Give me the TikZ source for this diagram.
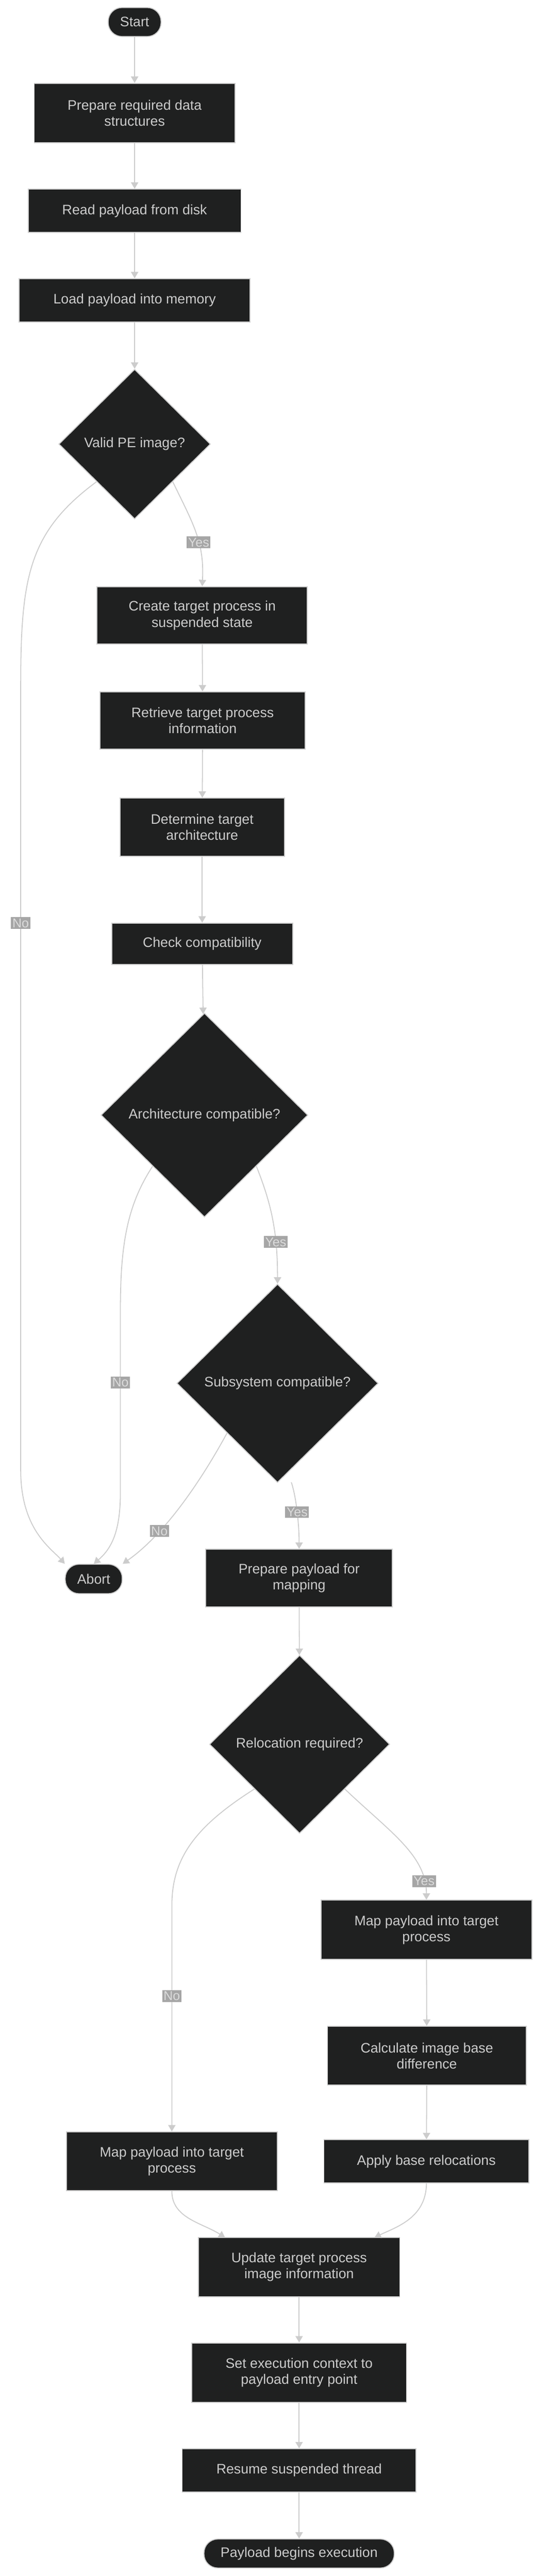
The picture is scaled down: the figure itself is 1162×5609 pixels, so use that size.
\documentclass[tikz,border=0pt]{standalone}
\usepackage{fontspec}
\setmainfont{Liberation Sans}
\usetikzlibrary{shapes.geometric,arrows.meta}
\definecolor{nodefill}{HTML}{1F2020}
\definecolor{linegray}{HTML}{CCCCCC}
\definecolor{lblfill}{HTML}{A6A6A6}
\begin{document}
\begin{tikzpicture}[x=1pt,y=-1pt,
    every node/.style={font=\fontsize{30}{35}\selectfont, text=linegray, align=center},
    box/.style={draw=linegray, line width=2pt, fill=nodefill, inner sep=0pt},
    term/.style={box, rounded corners=30pt},
    decision/.style={draw=linegray, line width=2pt, fill=nodefill, diamond, inner sep=0pt},
    lbl/.style={fill=lblfill, text=linegray!70, inner sep=3pt, font=\fontsize{28}{30}\selectfont},
    edge/.style={draw=linegray, line width=2pt, -{Triangle[width=16pt,length=14pt]}}]
    \useasboundingbox (0,0) rectangle (1162,5609);
    % main column
    \node [term, minimum width=115pt, minimum height=63pt] (start) at (293,48) {Start};
    \node [box, minimum width=437pt, minimum height=129pt] (prep) at (293,246) {Prepare required data\\structures};
    \node [box, minimum width=463pt, minimum height=94pt] (read) at (293,459) {Read payload from disk};
    \node [box, minimum width=503pt, minimum height=94pt] (load) at (293,654) {Load payload into memory};
    \node [decision, minimum width=330pt, minimum height=326pt] (valid) at (293,967) {Valid PE image?};
    \node [box, minimum width=458pt, minimum height=125pt] (create) at (440,1340) {Create target process in\\suspended state};
    \node [box, minimum width=447pt, minimum height=125pt] (retr) at (441,1569) {Retrieve target process\\information};
    \node [box, minimum width=358pt, minimum height=126pt] (arch) at (440,1801) {Determine target\\architecture};
    \node [box, minimum width=394pt, minimum height=90pt] (check) at (440,2055) {Check compatibility};
    \node [decision, minimum width=450pt, minimum height=444pt] (archok) at (445,2428) {Architecture compatible?};
    \node [decision, minimum width=438pt, minimum height=432pt] (subok) at (604,3012) {Subsystem compatible?};
    \node [term, minimum width=124pt, minimum height=64pt] (abort) at (204,3438) {Abort};
    \node [box, minimum width=406pt, minimum height=125pt] (prepmap) at (651,3436) {Prepare payload for\\mapping};
    \node [decision, minimum width=392pt, minimum height=388pt] (reloc) at (652,3798) {Relocation required?};
    % relocation branches
    \node [box, minimum width=459pt, minimum height=129pt] (mapr) at (928,4202) {Map payload into target\\process};
    \node [box, minimum width=432pt, minimum height=128pt] (calc) at (929,4476) {Calculate image base\\difference};
    \node [box, minimum width=446pt, minimum height=94pt] (apply) at (928,4706) {Apply base relocations};
    \node [box, minimum width=459pt, minimum height=128pt] (mapl) at (374,4706) {Map payload into target\\process};
    \node [box, minimum width=438pt, minimum height=129pt] (update) at (651,4936) {Update target process\\image information};
    \node [box, minimum width=467pt, minimum height=129pt] (setctx) at (651,5166) {Set execution context to\\payload entry point};
    \node [box, minimum width=509pt, minimum height=94pt] (resume) at (651,5379) {Resume suspended thread};
    \node [term, minimum width=414pt, minimum height=63pt] (run) at (651,5560) {Payload begins execution};
    % straight edges
    \foreach \a/\b in {start/prep, prep/read, read/load, load/valid, create/retr, retr/arch, arch/check, check/archok, prepmap/reloc, mapr/calc, calc/apply, update/setctx, setctx/resume, resume/run}
        \draw [edge] (\a) -- (\b);
    % decision edges
    \draw [edge] (valid.south east) .. controls (420,1140) and (445,1180) .. node [lbl, pos=0.6] {Yes} (create.north);
    \draw [edge] (valid.south west) .. controls (60,1160) and (45,1260) .. (45,1500) -- node [lbl, pos=0.3] {No} (45,3200) .. controls (45,3330) and (110,3370) .. (abort.north west);
    \draw [edge] (archok.south east) .. controls (590,2620) and (604,2680) .. node [lbl, pos=0.7] {Yes} (subok.north);
    \draw [edge] (archok.south west) .. controls (280,2620) and (262,2700) .. (262,2850) -- node [lbl, pos=0.4] {No} (262,3250) .. controls (262,3330) and (245,3370) .. (abort.north);
    \draw [edge] (subok.south west) .. controls (440,3220) and (360,3340) .. node [lbl, pos=0.7] {No} (abort.north east);
    \draw [edge] (subok.south east) ++(-80,107) .. controls (645,3260) and (651,3320) .. node [lbl, pos=0.5] {Yes} (prepmap.north);
    \draw [edge] (reloc.south west) .. controls (420,3980) and (374,4050) .. (374,4150) -- node [lbl, pos=0.4] {No} (mapl.north);
    \draw [edge] (reloc.south east) .. controls (850,3990) and (928,4040) .. node [lbl, pos=0.85] {Yes} (mapr.north);
    \draw [edge] (mapl.south) .. controls (374,4830) and (440,4840) .. (490,4872);
    \draw [edge] (apply.south) .. controls (928,4830) and (860,4850) .. (815,4872);
\end{tikzpicture}
\end{document}
